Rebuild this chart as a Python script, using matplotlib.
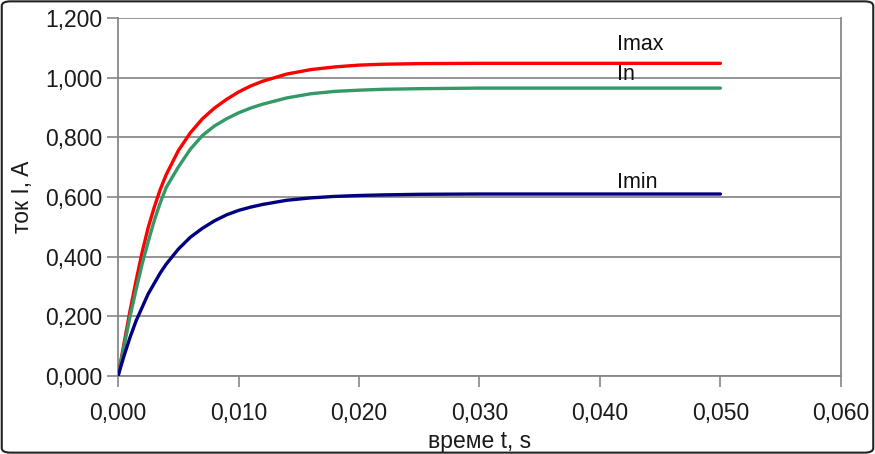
import matplotlib
matplotlib.use("Agg")
import matplotlib.pyplot as plt
from matplotlib.patches import FancyBboxPatch
from matplotlib.ticker import FuncFormatter, MultipleLocator

plt.rcParams['font.family'] = ['Liberation Sans', 'DejaVu Sans']

t = [0, 0.0005, 0.001, 0.0015, 0.002, 0.0025, 0.003, 0.0035, 0.004, 0.005,
     0.006, 0.007, 0.008, 0.009, 0.010, 0.011, 0.012, 0.014, 0.016, 0.018,
     0.020, 0.022, 0.025, 0.030, 0.035, 0.040, 0.045, 0.050]
i_max = [0, 0.11, 0.22, 0.32, 0.415, 0.497, 0.565, 0.625, 0.675, 0.755,
         0.815, 0.862, 0.898, 0.927, 0.952, 0.972, 0.988, 1.012, 1.027, 1.036,
         1.042, 1.045, 1.047, 1.048, 1.048, 1.048, 1.048, 1.048]
i_n = [0, 0.10, 0.20, 0.29, 0.375, 0.45, 0.52, 0.58, 0.632, 0.70,
       0.76, 0.806, 0.838, 0.862, 0.882, 0.898, 0.911, 0.932, 0.946, 0.954,
       0.958, 0.961, 0.963, 0.965, 0.965, 0.965, 0.965, 0.965]
i_min = [0, 0.068, 0.13, 0.185, 0.23, 0.275, 0.31, 0.345, 0.375, 0.425,
         0.465, 0.495, 0.52, 0.54, 0.555, 0.566, 0.575, 0.589, 0.597, 0.602,
         0.605, 0.607, 0.609, 0.610, 0.610, 0.610, 0.610, 0.610]
labels = ["Imax", "In", "Imin"]
label_pos = [(0.0414, 1.11), (0.0414, 1.01), (0.0414, 0.65)]

fig = plt.figure(figsize=(8.75, 4.54), dpi=100)
ax = fig.add_axes([0.1349, 0.1718, 0.961 - 0.1349, 0.9604 - 0.1718])

for vals, col in [(i_max, '#ff0000'), (i_n, '#339966'), (i_min, '#000080')]:
    ax.plot(t, vals, color=col, lw=2.4, solid_capstyle='round',
            solid_joinstyle='round', zorder=3)

for lab, (x, y) in zip(labels, label_pos):
    ax.text(x, y, lab, fontsize=15.5, color='#111111', ha='left', va='center', zorder=4)

ax.set_xlim(0, 0.06)
ax.set_ylim(0, 1.2)
ax.xaxis.set_major_locator(MultipleLocator(0.01))
ax.yaxis.set_major_locator(MultipleLocator(0.2))
fmt = FuncFormatter(lambda v, p: f"{v:.3f}".replace('.', ','))
ax.xaxis.set_major_formatter(fmt)
ax.yaxis.set_major_formatter(fmt)
ax.grid(axis='y', color='#777777', lw=1.1, zorder=1)
ax.set_axisbelow(True)

for s in ['left', 'bottom', 'right']:
    ax.spines[s].set_color('#888888')
    ax.spines[s].set_linewidth(1.3)
ax.spines['top'].set_visible(False)
ax.tick_params(axis='both', direction='out', length=8, width=1.2, color='#888888',
               labelsize=16.5, labelcolor='#1a1a1a', pad=3.5)
ax.tick_params(axis='x', pad=10.5)

ax.set_xlabel("време t, s", fontsize=16.5, color='#1a1a1a', labelpad=4)
ax.set_ylabel("ток I, A", fontsize=16.5, color='#1a1a1a', labelpad=8)

border = FancyBboxPatch((0.002, 0.003), 0.996, 0.994, boxstyle="round,pad=0,rounding_size=0.01",
                        transform=fig.transFigure, fill=False, edgecolor='#222222', lw=1.5)
fig.patches.append(border)

fig.savefig("out.png", dpi=100)
